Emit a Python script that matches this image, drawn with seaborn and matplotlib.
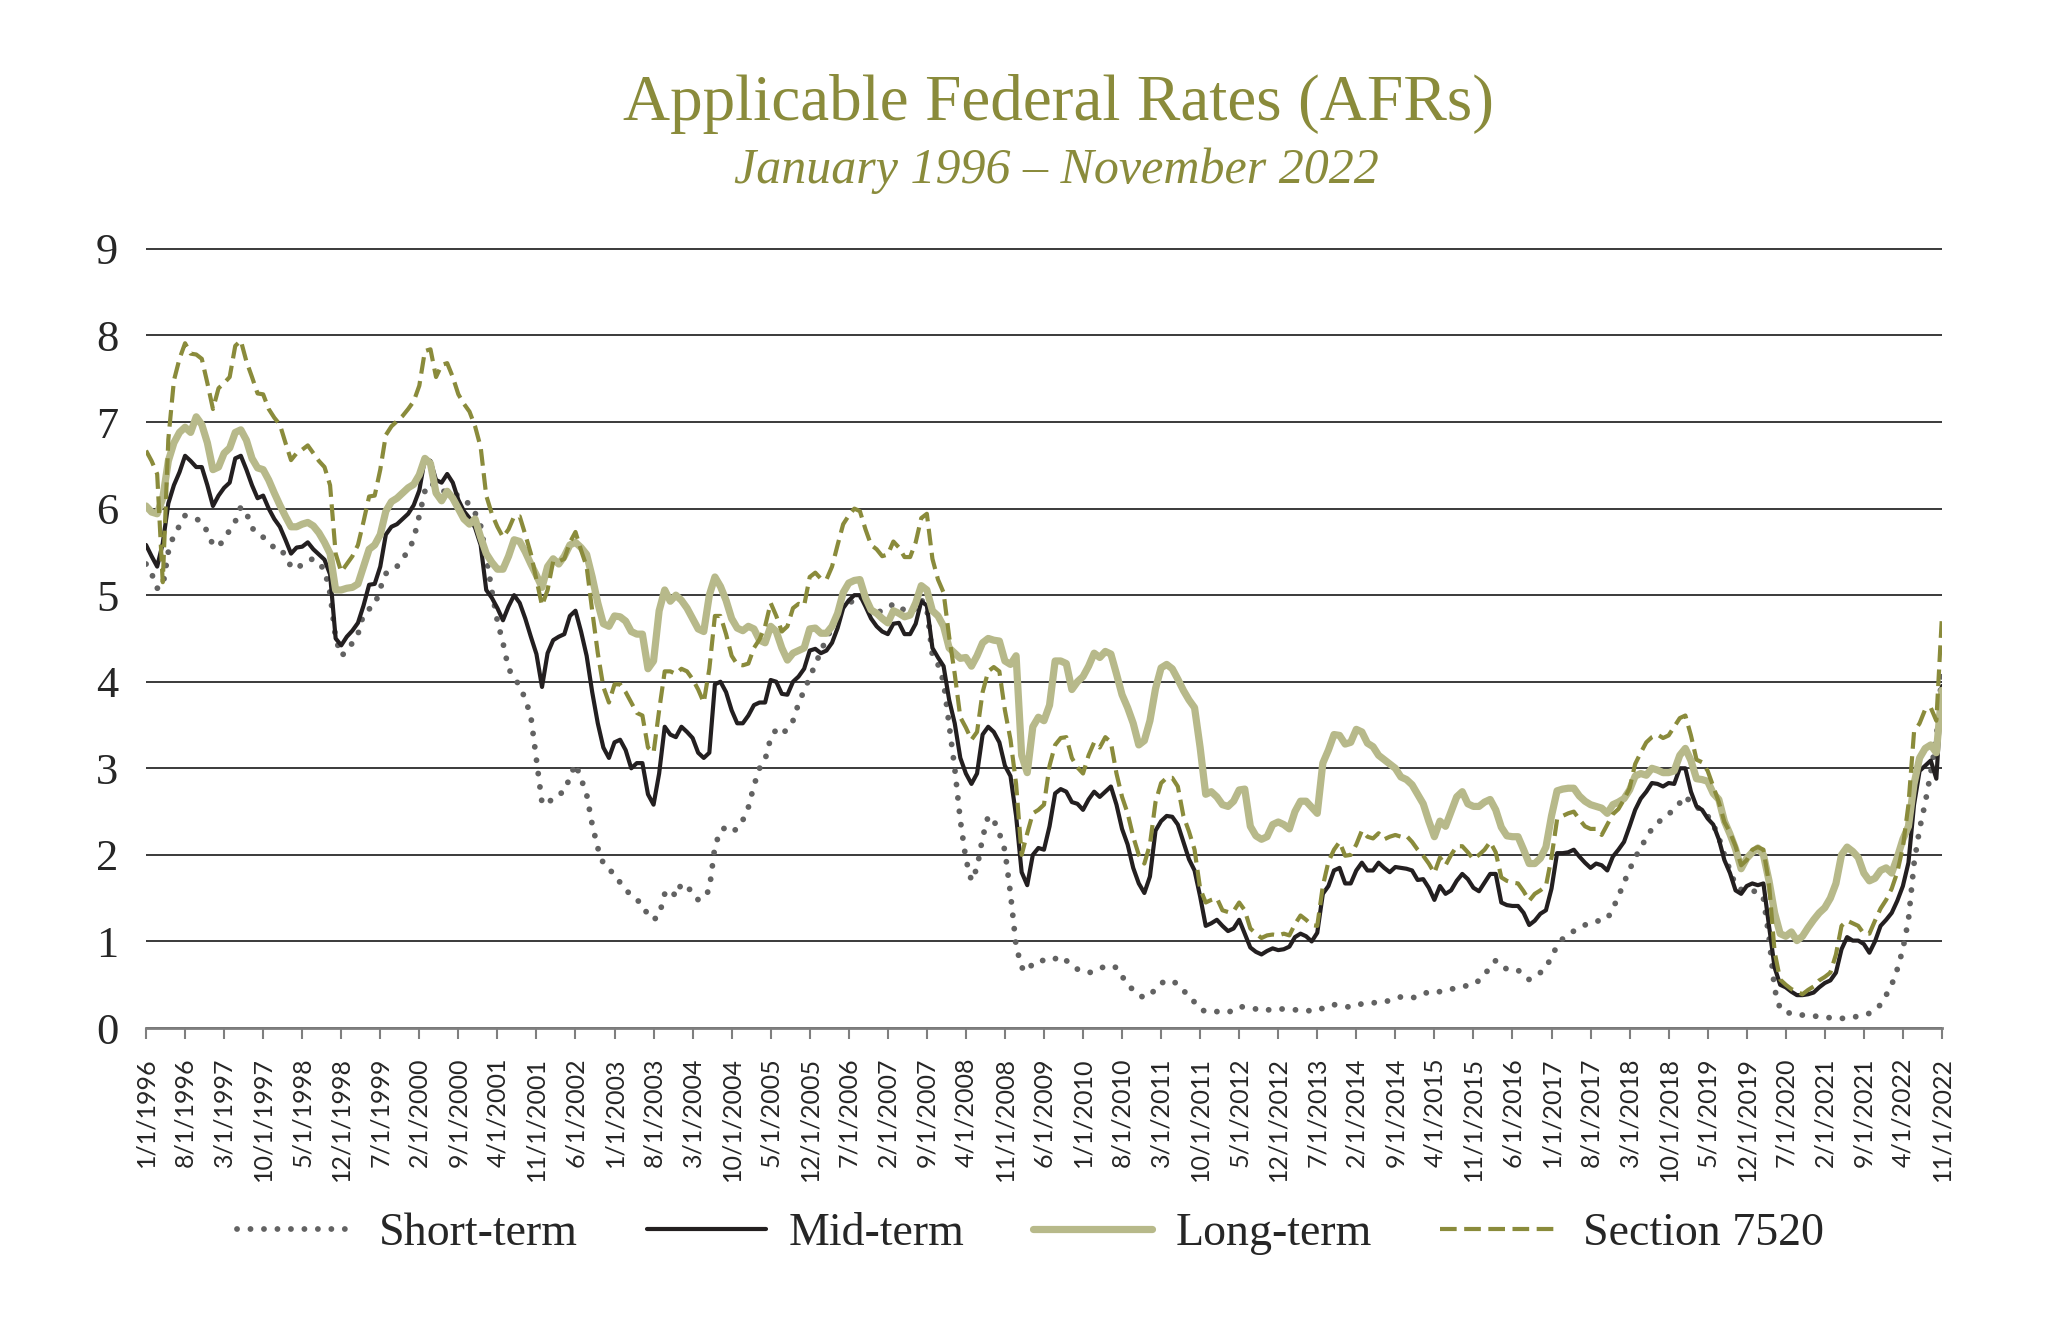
import pandas as pd
import matplotlib
matplotlib.use("Agg")
import matplotlib.pyplot as plt
import numpy as np
import seaborn as sns

# month categories, Jan 1996 .. Nov 2022
months = pd.date_range("1996-01-01", "2022-11-01", freq="MS")
tick_labels = [f"{d.month}/1/{d.year}" for d in months]

# values (percent), one row per year
short_term = [
    5.36, 5.25, 5.08, 5.10, 5.50, 5.70, 5.80, 5.92, 5.90, 5.88, 5.85, 5.73,
    5.58, 5.56, 5.65, 5.75, 5.85, 6.02, 5.95, 5.78, 5.70, 5.67, 5.60, 5.55,
    5.55, 5.45, 5.33, 5.30, 5.36, 5.40, 5.42, 5.36, 5.30, 5.02, 4.50, 4.30,
    4.35, 4.45, 4.55, 4.78, 4.84, 4.88, 5.08, 5.25, 5.28, 5.33, 5.43, 5.50,
    5.65, 5.92, 6.20, 6.30, 6.25, 6.20, 6.20, 6.18, 6.15, 6.10, 6.05, 5.95,
    5.80, 5.45, 5.05, 4.70, 4.45, 4.15, 4.05, 3.95, 3.80, 3.60, 3.10, 2.60,
    2.58, 2.67, 2.70, 2.73, 2.90, 3.05, 2.88, 2.70, 2.35, 2.08, 1.90, 1.83,
    1.78, 1.68, 1.60, 1.53, 1.48, 1.43, 1.30, 1.25, 1.30, 1.55, 1.60, 1.52,
    1.67, 1.62, 1.58, 1.48, 1.50, 1.60, 2.10, 2.28, 2.32, 2.27, 2.30, 2.40,
    2.55, 2.80, 3.00, 3.10, 3.35, 3.45, 3.40, 3.45, 3.55, 3.75, 3.90, 4.05,
    4.20, 4.35, 4.50, 4.62, 4.75, 4.88, 4.90, 4.95, 5.00, 4.90, 4.80, 4.80,
    4.82, 4.85, 4.90, 4.88, 4.82, 4.80, 4.85, 4.95, 4.85, 4.30, 4.20, 4.00,
    3.50, 3.00, 2.40, 1.95, 1.70, 1.85, 2.20, 2.45, 2.40, 2.25, 2.05, 1.55,
    0.95, 0.70, 0.65, 0.75, 0.78, 0.78, 0.77, 0.80, 0.83, 0.78, 0.72, 0.68,
    0.65, 0.64, 0.65, 0.68, 0.72, 0.71, 0.70, 0.60, 0.50, 0.44, 0.38, 0.35,
    0.38, 0.45, 0.52, 0.54, 0.55, 0.50, 0.44, 0.35, 0.30, 0.22, 0.19, 0.19,
    0.19, 0.18, 0.18, 0.21, 0.25, 0.24, 0.23, 0.22, 0.20, 0.21, 0.21, 0.22,
    0.22, 0.21, 0.21, 0.21, 0.20, 0.20, 0.20, 0.23, 0.26, 0.27, 0.26, 0.25,
    0.24, 0.26, 0.28, 0.28, 0.29, 0.30, 0.30, 0.32, 0.34, 0.36, 0.36, 0.35,
    0.36, 0.39, 0.42, 0.42, 0.42, 0.43, 0.45, 0.46, 0.48, 0.49, 0.50, 0.55,
    0.62, 0.70, 0.78, 0.72, 0.68, 0.67, 0.67, 0.60, 0.56, 0.60, 0.64, 0.70,
    0.82, 0.95, 1.03, 1.08, 1.12, 1.15, 1.19, 1.22, 1.23, 1.25, 1.26, 1.38,
    1.52, 1.68, 1.83, 1.97, 2.08, 2.20, 2.30, 2.37, 2.42, 2.47, 2.53, 2.60,
    2.68, 2.60, 2.55, 2.52, 2.45, 2.35, 2.20, 2.00, 1.82, 1.65, 1.60, 1.58,
    1.58, 1.58, 1.50, 1.05, 0.45, 0.22, 0.18, 0.17, 0.15, 0.15, 0.14, 0.14,
    0.13, 0.12, 0.12, 0.11, 0.11, 0.12, 0.12, 0.14, 0.15, 0.17, 0.21, 0.27,
    0.38, 0.50, 0.68, 0.91, 1.25, 1.90, 2.30, 2.60, 2.95, 3.35, 4.10,
]

mid_term = [
    5.58, 5.45, 5.33, 5.60, 6.06, 6.27, 6.42, 6.61, 6.55, 6.48, 6.48, 6.27,
    6.03, 6.15, 6.24, 6.30, 6.58, 6.61, 6.45, 6.27, 6.12, 6.15, 6.00, 5.88,
    5.79, 5.64, 5.48, 5.55, 5.56, 5.61, 5.53, 5.47, 5.41, 5.24, 4.50, 4.42,
    4.52, 4.59, 4.68, 4.88, 5.12, 5.13, 5.33, 5.70, 5.79, 5.82, 5.88, 5.94,
    6.04, 6.21, 6.58, 6.55, 6.33, 6.30, 6.40, 6.30, 6.10, 5.97, 5.89, 5.78,
    5.58, 5.06, 4.97, 4.85, 4.71, 4.87, 5.00, 4.91, 4.73, 4.52, 4.32, 3.94,
    4.33, 4.48, 4.52, 4.55, 4.76, 4.82, 4.58, 4.30, 3.88, 3.52, 3.24, 3.12,
    3.30, 3.33, 3.21, 3.00, 3.06, 3.06, 2.70, 2.58, 2.94, 3.48, 3.39, 3.36,
    3.48, 3.42, 3.35, 3.18, 3.12, 3.18, 3.97, 4.00, 3.88, 3.67, 3.52, 3.52,
    3.61, 3.73, 3.76, 3.76, 4.02, 4.00, 3.86, 3.85, 4.00, 4.06, 4.15, 4.36,
    4.38, 4.33, 4.36, 4.45, 4.62, 4.85, 4.94, 5.00, 5.00, 4.87, 4.73, 4.64,
    4.58, 4.55, 4.67, 4.68, 4.55, 4.55, 4.67, 4.93, 4.88, 4.39, 4.28, 4.18,
    3.79, 3.52, 3.12, 2.94, 2.82, 2.94, 3.39, 3.48, 3.42, 3.30, 3.03, 2.91,
    2.45, 1.80, 1.65, 2.00, 2.08, 2.06, 2.33, 2.71, 2.76, 2.73, 2.61, 2.59,
    2.52, 2.64, 2.73, 2.67, 2.73, 2.79, 2.58, 2.30, 2.12, 1.85, 1.67, 1.56,
    1.75, 2.28, 2.39, 2.45, 2.44, 2.35, 2.15, 1.95, 1.82, 1.52, 1.18, 1.21,
    1.25, 1.18, 1.12, 1.15, 1.25, 1.09, 0.93, 0.88, 0.85, 0.89, 0.92, 0.90,
    0.91, 0.94, 1.05, 1.09, 1.06, 1.00, 1.10, 1.55, 1.64, 1.82, 1.85, 1.67,
    1.67, 1.82, 1.91, 1.82, 1.82, 1.91, 1.85, 1.80, 1.86, 1.85, 1.84, 1.82,
    1.71, 1.72, 1.62, 1.48, 1.64, 1.55, 1.59, 1.70, 1.78, 1.72, 1.62, 1.58,
    1.68, 1.78, 1.78, 1.45, 1.42, 1.41, 1.41, 1.33, 1.19, 1.24, 1.32, 1.36,
    1.61, 2.02, 2.02, 2.03, 2.06, 1.98, 1.91, 1.85, 1.90, 1.88, 1.82, 1.98,
    2.06, 2.15, 2.33, 2.52, 2.65, 2.73, 2.83, 2.82, 2.79, 2.83, 2.82, 3.00,
    3.00, 2.73, 2.56, 2.52, 2.42, 2.35, 2.18, 1.94, 1.79, 1.59, 1.55, 1.64,
    1.67, 1.65, 1.67, 1.18, 0.70, 0.50, 0.47, 0.42, 0.38, 0.38, 0.39, 0.41,
    0.47, 0.52, 0.55, 0.64, 0.91, 1.05, 1.01, 1.01, 0.97, 0.87, 1.00, 1.18,
    1.25, 1.33, 1.47, 1.64, 1.91, 2.58, 2.97, 3.03, 3.09, 2.88, 3.95,
]

long_term = [
    6.03, 5.96, 5.94, 6.12, 6.55, 6.76, 6.88, 6.94, 6.88, 7.06, 6.97, 6.76,
    6.45, 6.48, 6.64, 6.70, 6.88, 6.91, 6.79, 6.58, 6.47, 6.45, 6.33, 6.18,
    6.04, 5.91, 5.79, 5.79, 5.82, 5.84, 5.80, 5.72, 5.61, 5.48, 5.06, 5.06,
    5.08, 5.09, 5.13, 5.33, 5.53, 5.58, 5.70, 5.97, 6.08, 6.12, 6.18, 6.24,
    6.28, 6.39, 6.58, 6.52, 6.18, 6.09, 6.20, 6.12, 6.00, 5.88, 5.82, 5.88,
    5.67, 5.48, 5.38, 5.30, 5.30, 5.45, 5.64, 5.62, 5.50, 5.36, 5.23, 5.09,
    5.33, 5.42, 5.36, 5.45, 5.58, 5.61, 5.55, 5.47, 5.21, 4.91, 4.67, 4.64,
    4.76, 4.75, 4.70, 4.58, 4.55, 4.55, 4.15, 4.24, 4.82, 5.06, 4.93, 5.00,
    4.94, 4.85, 4.73, 4.61, 4.58, 5.00, 5.21, 5.10, 4.94, 4.73, 4.62, 4.59,
    4.64, 4.61, 4.48, 4.45, 4.64, 4.58, 4.39, 4.25, 4.33, 4.36, 4.39, 4.61,
    4.62, 4.56, 4.56, 4.64, 4.79, 5.03, 5.14, 5.17, 5.18, 4.97, 4.83, 4.79,
    4.73, 4.68, 4.82, 4.79, 4.75, 4.77, 4.91, 5.11, 5.06, 4.82, 4.76, 4.64,
    4.39, 4.33, 4.27, 4.28, 4.18, 4.30, 4.45, 4.50, 4.48, 4.47, 4.24, 4.20,
    4.30, 3.15, 2.95, 3.48, 3.59, 3.55, 3.73, 4.24, 4.24, 4.21, 3.91, 4.00,
    4.06, 4.18, 4.33, 4.28, 4.35, 4.32, 4.09, 3.85, 3.70, 3.52, 3.27, 3.32,
    3.55, 3.92, 4.16, 4.20, 4.15, 4.03, 3.90, 3.79, 3.70, 3.24, 2.70, 2.73,
    2.67, 2.58, 2.56, 2.62, 2.75, 2.76, 2.33, 2.22, 2.18, 2.21, 2.35, 2.38,
    2.35, 2.30, 2.50, 2.62, 2.62, 2.55, 2.48, 3.06, 3.21, 3.39, 3.38, 3.28,
    3.30, 3.45, 3.42, 3.29, 3.25, 3.15, 3.10, 3.05, 3.00, 2.90, 2.87, 2.81,
    2.70, 2.59, 2.39, 2.21, 2.39, 2.33, 2.50, 2.67, 2.73, 2.59, 2.56, 2.56,
    2.61, 2.64, 2.52, 2.32, 2.22, 2.21, 2.21, 2.06, 1.90, 1.90, 1.96, 2.09,
    2.45, 2.74, 2.76, 2.77, 2.77, 2.68, 2.62, 2.58, 2.56, 2.54, 2.48, 2.58,
    2.61, 2.65, 2.75, 2.91, 2.94, 2.92, 3.00, 2.98, 2.95, 2.95, 2.97, 3.15,
    3.23, 3.09, 2.88, 2.87, 2.85, 2.71, 2.64, 2.39, 2.24, 2.07, 1.84, 1.96,
    2.03, 2.08, 2.00, 1.70, 1.33, 1.09, 1.06, 1.11, 1.01, 1.06, 1.16, 1.25,
    1.33, 1.39, 1.50, 1.67, 2.00, 2.09, 2.04, 1.97, 1.79, 1.70, 1.73, 1.82,
    1.85, 1.79, 1.97, 2.18, 2.33, 2.82, 3.12, 3.23, 3.27, 3.18, 3.90,
]

section_7520 = [
    6.67, 6.55, 6.40, 5.15, 6.80, 7.48, 7.73, 7.91, 7.79, 7.78, 7.73, 7.45,
    7.15, 7.39, 7.45, 7.52, 7.88, 7.94, 7.70, 7.52, 7.33, 7.32, 7.15, 7.05,
    6.97, 6.76, 6.56, 6.64, 6.68, 6.73, 6.64, 6.55, 6.48, 6.27, 5.48, 5.27,
    5.36, 5.45, 5.58, 5.85, 6.14, 6.15, 6.45, 6.85, 6.95, 7.01, 7.07, 7.15,
    7.24, 7.42, 7.82, 7.84, 7.52, 7.66, 7.68, 7.52, 7.32, 7.21, 7.12, 6.95,
    6.71, 6.15, 5.94, 5.79, 5.67, 5.76, 5.91, 5.91, 5.70, 5.48, 5.18, 4.88,
    5.06, 5.39, 5.39, 5.42, 5.61, 5.73, 5.52, 5.33, 4.82, 4.33, 3.94, 3.76,
    3.97, 3.97, 3.88, 3.76, 3.64, 3.61, 3.24, 3.18, 3.67, 4.12, 4.12, 4.09,
    4.15, 4.12, 4.03, 3.91, 3.76, 4.15, 4.76, 4.76, 4.55, 4.30, 4.20, 4.19,
    4.21, 4.39, 4.49, 4.64, 4.91, 4.76, 4.58, 4.64, 4.85, 4.90, 4.88, 5.21,
    5.26, 5.19, 5.18, 5.33, 5.58, 5.82, 5.92, 6.00, 5.97, 5.76, 5.58, 5.53,
    5.45, 5.47, 5.62, 5.55, 5.44, 5.44, 5.61, 5.89, 5.94, 5.42, 5.18, 5.03,
    4.52, 4.09, 3.59, 3.47, 3.33, 3.42, 3.88, 4.12, 4.17, 4.12, 3.67, 3.33,
    2.82, 2.00, 2.25, 2.48, 2.52, 2.58, 3.03, 3.27, 3.35, 3.36, 3.12, 3.01,
    2.94, 3.15, 3.30, 3.24, 3.36, 3.30, 2.94, 2.67, 2.48, 2.21, 2.00, 1.90,
    2.12, 2.61, 2.83, 2.89, 2.89, 2.79, 2.45, 2.27, 2.06, 1.61, 1.45, 1.48,
    1.50, 1.36, 1.34, 1.35, 1.45, 1.36, 1.15, 1.09, 1.04, 1.07, 1.08, 1.07,
    1.09, 1.07, 1.20, 1.30, 1.25, 1.19, 1.18, 1.64, 1.92, 2.06, 2.15, 1.99,
    2.00, 2.12, 2.28, 2.21, 2.19, 2.25, 2.18, 2.21, 2.23, 2.21, 2.22, 2.15,
    2.06, 1.99, 1.90, 1.79, 1.97, 1.88, 2.00, 2.10, 2.10, 2.03, 1.95, 2.00,
    2.06, 2.15, 2.03, 1.74, 1.70, 1.68, 1.67, 1.58, 1.47, 1.55, 1.59, 1.64,
    1.97, 2.41, 2.45, 2.48, 2.50, 2.41, 2.33, 2.30, 2.30, 2.23, 2.35, 2.47,
    2.53, 2.64, 2.77, 3.05, 3.18, 3.30, 3.36, 3.39, 3.35, 3.38, 3.48, 3.58,
    3.61, 3.38, 3.10, 3.07, 2.97, 2.79, 2.61, 2.38, 2.26, 2.10, 1.88, 1.94,
    2.06, 2.09, 2.06, 1.67, 0.88, 0.56, 0.50, 0.45, 0.42, 0.39, 0.44, 0.48,
    0.55, 0.59, 0.64, 0.85, 1.18, 1.24, 1.21, 1.18, 1.09, 1.09, 1.24, 1.38,
    1.48, 1.61, 1.80, 2.09, 2.58, 3.42, 3.52, 3.68, 3.70, 3.55, 4.75,
]

df = pd.DataFrame({
    "pos": np.arange(len(months)),
    "Short-term": short_term,
    "Mid-term": mid_term,
    "Long-term": long_term,
    "Section 7520": section_7520,
})

sns.set_theme(style="white")
plt.rcParams["font.family"] = ["Liberation Serif", "DejaVu Serif"]

olive = "#8a8b3b"
fig = plt.figure(figsize=(20.48, 13.27), dpi=100)
ax = fig.add_axes([0.0713, 0.2253, 0.8769, 0.5878])

# same drawing order as the original: short, mid, long, 7520 on top
sns.lineplot(data=df, x="pos", y="Short-term", ax=ax, color="#626262", linewidth=4.2,
             linestyle=(0, (0.01, 2.3)), dash_capstyle="round", label="Short-term")
sns.lineplot(data=df, x="pos", y="Mid-term", ax=ax, color="#231f20", linewidth=3.0,
             label="Mid-term")
sns.lineplot(data=df, x="pos", y="Long-term", ax=ax, color="#b7b98a", linewidth=5.2,
             label="Long-term")
sns.lineplot(data=df, x="pos", y="Section 7520", ax=ax, color=olive, linewidth=3.0,
             linestyle=(0, (4.0, 1.8)), label="Section 7520")

ax.set_xlim(0, len(months) - 1)
ax.set_ylim(0, 9.01)
ax.set_yticks(range(0, 10))
ax.set_yticklabels([str(v) for v in range(0, 10)], fontsize=32)
ax.yaxis.grid(True, color="#2b2b2b", linewidth=1.3)
ax.set_axisbelow(True)
ax.tick_params(axis="y", length=0, pad=20)

tick_pos = list(range(0, len(months), 7))
ax.set_xticks(tick_pos)
ax.set_xticklabels([tick_labels[i] for i in tick_pos], rotation=90,
                   fontsize=18, family=["Lato", "DejaVu Sans"])
ax.tick_params(axis="x", length=8, width=1.5, color="#7f7f7f", pad=13, bottom=True)

for s in ["top", "right", "left"]:
    ax.spines[s].set_visible(False)
ax.spines["bottom"].set_color("#7f7f7f")
ax.spines["bottom"].set_linewidth(2)
ax.set_xlabel("")
ax.set_ylabel("")
if ax.get_legend() is not None:
    ax.get_legend().remove()

handles, labels = ax.get_legend_handles_labels()
fig.legend(handles, labels, loc="center", bbox_to_anchor=(0.503, 0.07), ncol=4,
           frameon=False, fontsize=33, handlelength=2.6, columnspacing=1.5,
           handletextpad=0.5)

fig.text(0.517, 0.922, "Applicable Federal Rates (AFRs)", ha="center", va="center",
         fontsize=47, color=olive)
fig.text(0.516, 0.871, "January 1996 \u2013 November 2022", ha="center", va="center",
         fontsize=36, color=olive, style="italic")

fig.savefig("out.png", dpi=100)
